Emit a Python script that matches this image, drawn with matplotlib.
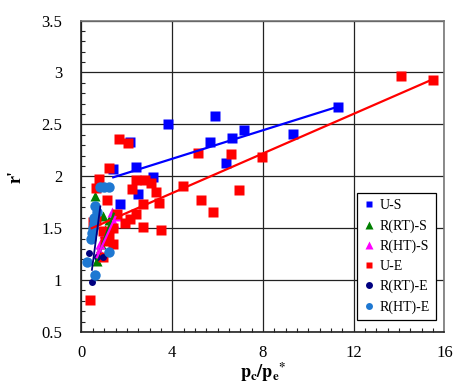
import matplotlib
matplotlib.use("Agg")
import matplotlib.pyplot as plt
import numpy as np
from matplotlib.ticker import MultipleLocator
from matplotlib.lines import Line2D

# ---- data ----
us_x = [1.40, 1.71, 2.15, 2.39, 2.48, 3.14, 3.83, 5.66, 5.90, 6.35, 6.65, 7.15, 9.33, 11.32]
us_y = [2.07, 1.73, 2.33, 2.09, 1.83, 1.99, 2.50, 2.33, 2.58, 2.13, 2.37, 2.45, 2.41, 2.67]

rrts_x = [0.61, 0.68, 1.05, 0.85, 1.20, 0.95, 0.75]
rrts_y = [1.81, 1.18, 1.48, 1.35, 1.58, 1.62, 1.28]

rhts_x = [1.34, 1.45, 0.82, 1.00, 1.20, 0.75, 1.55]
rhts_y = [1.66, 1.55, 1.35, 1.45, 1.50, 1.28, 1.62]

ue_x = [0.37, 0.52, 0.62, 0.64, 0.76, 0.96, 0.96, 1.05, 1.14, 1.20, 1.21, 1.40, 1.40,
        1.55, 1.64, 1.92, 2.05, 2.12, 2.24, 2.39, 2.39, 2.70, 2.70, 2.78, 3.05, 3.27,
        3.42, 3.49, 4.49, 5.13, 5.28, 5.81, 6.59, 6.94, 7.97, 14.10, 15.50]
ue_y = [0.81, 1.56, 1.58, 1.89, 1.97, 1.22, 1.47, 1.38, 1.77, 2.08, 1.42, 1.35, 1.50,
        1.64, 2.36, 1.55, 2.32, 1.59, 1.88, 1.64, 1.96, 1.51, 1.73, 1.96, 1.94, 1.85,
        1.74, 1.48, 1.91, 2.22, 1.77, 1.66, 2.21, 1.87, 2.19, 2.97, 2.93]

rrte_x = [0.32, 0.68, 0.96, 0.46]
rrte_y = [1.26, 1.22, 1.22, 0.98]

rhte_x = [0.80, 1.00, 1.22, 0.61, 0.68, 0.54, 0.46, 0.42, 1.20, 0.26, 0.61, 0.55, 0.50]
rhte_y = [1.90, 1.90, 1.90, 1.71, 1.66, 1.55, 1.45, 1.40, 1.27, 1.17, 1.05, 1.60, 1.50]

# trend lines: (slope, intercept, x_start, x_end)
trend_us = (0.0687, 1.894, 1.40, 11.30)
trend_ue = (0.0954, 1.457, 0.45, 15.60)
trend_rrts = (0.593, 0.798, 0.61, 1.42)
trend_rhts = (0.48, 0.893, 0.68, 1.49)
trend_rrte = (1.65, 0.34, 0.46, 0.83)

labels = ["U-S", "R(RT)-S", "R(HT)-S", "U-E", "R(RT)-E", "R(HT)-E"]
colors = ["#0000FF", "#008000", "#FF00FF", "#FF0000", "#000080", "#1E78D2"]

# ---- figure ----
plt.rcParams['font.family'] = ['Liberation Serif', 'DejaVu Serif']
plt.rcParams['mathtext.fontset'] = 'stix'
fig = plt.figure(figsize=(4.54, 3.88), dpi=100)
ax = fig.add_axes([0.1795, 0.1443, 0.7995, 0.8027])

ax.set_xlim(0, 16)
ax.set_ylim(0.5, 3.5)
ax.xaxis.set_major_locator(MultipleLocator(4))
ax.yaxis.set_major_locator(MultipleLocator(0.5))
ax.xaxis.set_minor_locator(MultipleLocator(0.5))
ax.yaxis.set_minor_locator(MultipleLocator(0.1))
ax.grid(True, which='major', color='#222222', linewidth=0.9)
ax.set_axisbelow(True)
ax.tick_params(which='major', length=0, labelsize=12)
ax.tick_params(axis='y', which='major', pad=14)
ax.tick_params(axis='x', which='major', pad=9)
ax.tick_params(which='minor', direction='in', length=3, width=0.8, color='#222222')
ax.tick_params(which='minor', top=False, right=False)
ax.set_yticks([0.5, 1, 1.5, 2, 2.5, 3, 3.5])
ax.set_yticklabels(["0.5", "1", "1.5", "2", "2.5", "3", "3.5"])
for s in ax.spines.values():
    s.set_color('#777777')
    s.set_linewidth(1.2)
ax.spines['left'].set_color('#222222')
ax.spines['bottom'].set_color('#222222')

ms_sq = 6.5
ax.plot(us_x, us_y, 's', color=colors[0], ms=ms_sq, mec='none', zorder=3)
ax.plot(rrts_x, rrts_y, '^', color=colors[1], ms=7, mec='none', zorder=3)
ax.plot(rhts_x, rhts_y, '^', color=colors[2], ms=7, mec='none', zorder=3)
ax.plot(ue_x, ue_y, 's', color=colors[3], ms=ms_sq, mec='none', zorder=3)
ax.plot(rrte_x, rrte_y, 'o', color=colors[4], ms=5, mec='none', zorder=4)
ax.plot(rhte_x, rhte_y, 'o', color=colors[5], ms=7.5, mec='none', zorder=4)

def trend(t, c, lw=1.6, z=5):
    k, b, x0, x1 = t
    xs = np.array([x0, x1])
    ax.plot(xs, k * xs + b, '-', color=c, lw=lw, zorder=z)

trend(trend_us, colors[0])
trend(trend_ue, colors[3])
trend(trend_rrts, colors[1])
trend(trend_rhts, colors[2])
trend(trend_rrte, colors[4], lw=1.3, z=6)

handles = [
    Line2D([], [], ls='none', marker='s', color=colors[0], ms=5, mec='none'),
    Line2D([], [], ls='none', marker='^', color=colors[1], ms=5.5, mec='none'),
    Line2D([], [], ls='none', marker='^', color=colors[2], ms=5.5, mec='none'),
    Line2D([], [], ls='none', marker='s', color=colors[3], ms=5, mec='none'),
    Line2D([], [], ls='none', marker='o', color=colors[4], ms=5, mec='none'),
    Line2D([], [], ls='none', marker='o', color=colors[5], ms=5, mec='none'),
]
leg = ax.legend(handles, labels, loc='lower left', bbox_to_anchor=(0.759, 0.0385),
                borderaxespad=0, fontsize=10, frameon=True, fancybox=False,
                edgecolor='black', framealpha=1, labelspacing=0.5,
                handlelength=0.8, handletextpad=0.4, borderpad=0.45)
leg.get_frame().set_linewidth(0.9)
leg.set_zorder(10)

ax.set_xlabel(r"$\mathbf{p_c/p_e}^{\mathbf{*}}$", fontsize=13, labelpad=0)
ax.set_ylabel("r'", fontsize=13, fontweight='bold', labelpad=12)

fig.savefig("out.png", dpi=100)
